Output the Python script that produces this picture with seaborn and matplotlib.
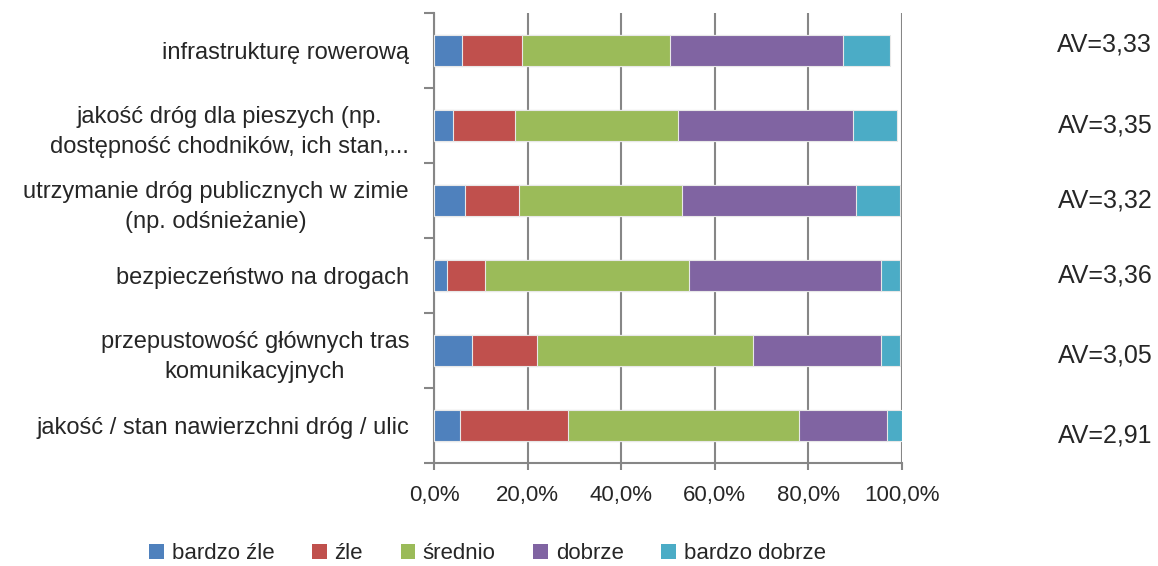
import matplotlib
matplotlib.use("Agg")
import matplotlib.pyplot as plt
import matplotlib.transforms as mtransforms
from matplotlib.patches import Patch
from matplotlib.ticker import FixedLocator
import pandas as pd
import numpy as np
import seaborn as sns

# dane (%)
categories = [
    "infrastrukturę rowerową",
    "jakość dróg dla pieszych (np.\ndostępność chodników, ich stan,...",
    "utrzymanie dróg publicznych w zimie\n(np. odśnieżanie)",
    "bezpieczeństwo na drogach",
    "przepustowość głównych tras\nkomunikacyjnych",
    "jakość / stan nawierzchni dróg / ulic",
]
bardzo_zle = [6.0, 4.0, 6.7, 2.8, 8.1, 5.5]
zle = [12.9, 13.4, 11.4, 8.0, 14.0, 23.1]
srednio = [31.6, 34.8, 34.8, 43.7, 46.1, 49.5]
dobrze = [37.0, 37.3, 37.3, 41.0, 27.3, 18.8]
bardzo_dobrze = [9.9, 9.4, 9.3, 4.0, 4.0, 3.1]
av_labels = ["AV=3,33", "AV=3,35", "AV=3,32", "AV=3,36", "AV=3,05", "AV=2,91"]
series_names = ["bardzo źle", "źle", "średnio", "dobrze", "bardzo dobrze"]
colors = ["#4F81BD", "#C0504D", "#9BBB59", "#8064A2", "#4BACC6"]
x_ticks = [0, 20, 40, 60, 80, 100]
x_tick_labels = ["0,0%", "20,0%", "40,0%", "60,0%", "80,0%", "100,0%"]

sns.set_style("white")
plt.rcParams["font.family"] = ["Liberation Sans Narrow", "Liberation Sans", "DejaVu Sans"]

df = pd.DataFrame({"kategoria": categories})
for name, vals in zip(series_names, [bardzo_zle, zle, srednio, dobrze, bardzo_dobrze]):
    df[name] = vals
cum = df[series_names].cumsum(axis=1)
cum["kategoria"] = df["kategoria"]

fig = plt.figure(figsize=(11.58, 5.66), dpi=100)
ax = fig.add_axes([0.3748, 0.182, 0.404, 0.795])

# stos: rysujemy od najdłuższej sumy do najkrótszej
for name, col in reversed(list(zip(series_names, colors))):
    sns.barplot(data=cum, x=name, y="kategoria", order=categories, color=col,
                width=0.41, orient="h", edgecolor="#E8E8E8", linewidth=0.8,
                saturation=1, ax=ax, zorder=3)

ax.set_xlim(0, 100)
ax.set_ylim(5.5, -0.5)
ax.set_xlabel("")
ax.set_ylabel("")
ax.set_xticks(x_ticks)
ax.set_xticklabels(x_tick_labels, fontsize=16)
ax.xaxis.grid(True, color="#868686", linewidth=1.5, zorder=0)
ax.set_axisbelow(True)
ax.yaxis.set_minor_locator(FixedLocator(np.arange(-0.5, 6, 1)))
ax.tick_params(axis="y", which="major", length=0, labelsize=17, pad=18)
ax.tick_params(axis="y", which="minor", length=7, width=1.5, color="#868686", direction="out", left=True)
ax.tick_params(axis="x", length=5, width=1.5, color="#868686", direction="out", bottom=True, pad=11)
for lab in ax.get_yticklabels():
    lab.set_multialignment("center")
    lab.set_linespacing(1.45)
for s in ["top", "right"]:
    ax.spines[s].set_visible(False)
for s in ["left", "bottom"]:
    ax.spines[s].set_color("#868686")
    ax.spines[s].set_linewidth(1.5)

# etykiety AV
trans = mtransforms.blended_transform_factory(fig.transFigure, ax.transData)
av_offsets = [-0.08, 0, 0, 0, 0.07, 0.13]
for i, (txt, off) in enumerate(zip(av_labels, av_offsets)):
    ax.text(0.995, i + off, txt, transform=trans, fontsize=18, va="center", ha="right")

handles = [Patch(facecolor=c, edgecolor="none") for c in colors]
fig.legend(handles, series_names, loc="center", bbox_to_anchor=(0.421, 0.022),
           ncol=5, frameon=False, fontsize=16, handlelength=0.65, handleheight=0.65,
           handletextpad=0.35, columnspacing=1.7)

fig.savefig("out.png", dpi=100)
